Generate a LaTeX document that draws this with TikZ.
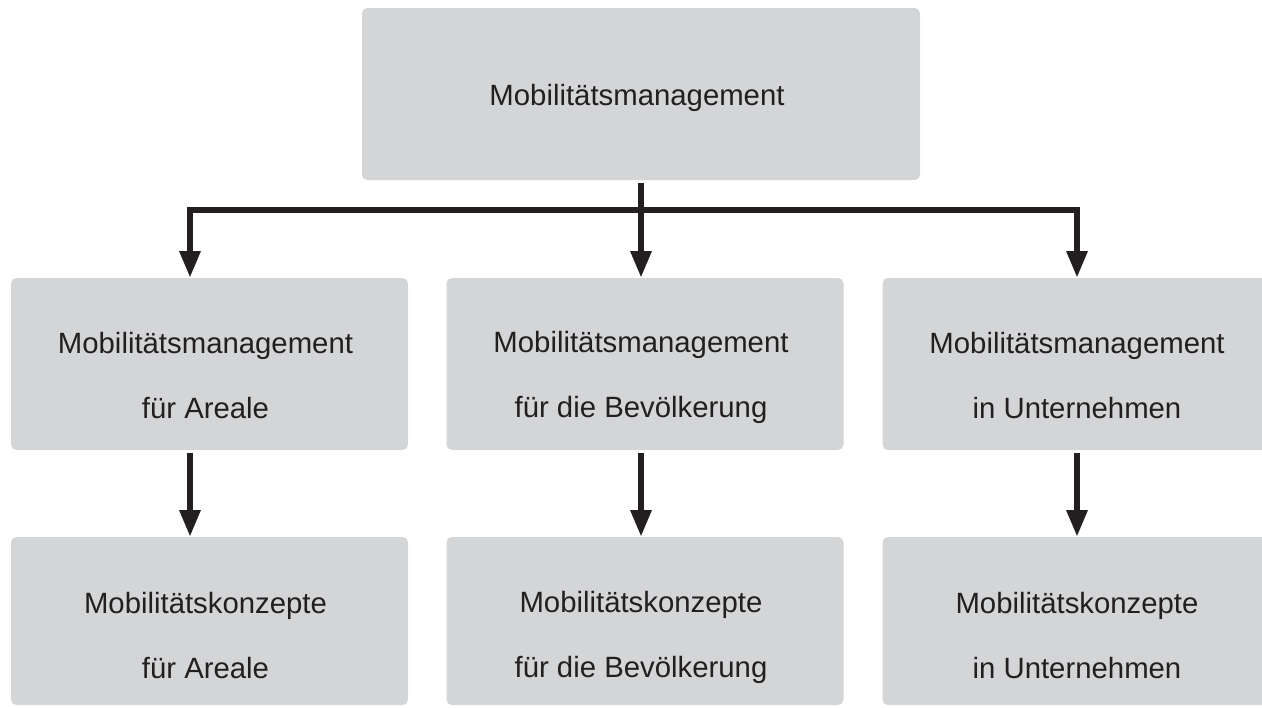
\documentclass[tikz,border=0pt]{standalone}
\usepackage{fontspec}
\setmainfont{Liberation Sans}
\usetikzlibrary{arrows.meta}
\definecolor{boxgray}{HTML}{D4D5D7}
\definecolor{inkdark}{HTML}{231F20}

\begin{document}
\begin{tikzpicture}[x=0.75pt, y=-0.75pt,
            every node/.style = {shape=rectangle, rounded corners=4pt,
                    fill=boxgray, text=inkdark, align=center, inner sep=0pt,
                    font=\fontsize{22}{48.75}\selectfont},
            textpad/.style = {execute at begin node={\rule{0pt}{#1}},
                    execute at end node={\rule[-4.5pt]{0pt}{4.5pt}\kern6pt}},
            field/.style = {minimum width=297.75pt, minimum height=129pt,
                    textpad=85.5pt},
            concept/.style = {minimum width=297.75pt, minimum height=126pt,
                    textpad=90pt},
            link/.style = {draw=inkdark, line width=4.5pt},
            arrow/.style = {link, shorten <=2pt,
                    -{Triangle[width=15pt,length=20pt]}}]
        \useasboundingbox (0,0) rectangle (1262,707);
        % management levels
        \node[minimum width=418.5pt, minimum height=129pt, textpad=22.5pt] (mm) at (641,94) {Mobilitätsmanagement};
        \node[field] (mmareal) at (209.5,364) {Mobilitätsmanagement\\für Areale};
        \node[field] (mmbev) at (645,364) {Mobilitätsmanagement\\für die Bevölkerung};
        \node[field] (mmunt) at (1081,364) {Mobilitätsmanagement\\in Unternehmen};
        % concepts
        \node[concept] (mkareal) at (209.5,621) {Mobilitätskonzepte\\für Areale};
        \node[concept] (mkbev) at (645,621) {Mobilitätskonzepte\\für die Bevölkerung};
        \node[concept] (mkunt) at (1081,621) {Mobilitätskonzepte\\in Unternehmen};
        % bus
        \coordinate (busl) at (190,210);
        \coordinate (busr) at (1077,210);
        \draw[link, {Triangle[width=15pt,length=20pt]}-{Triangle[width=15pt,length=20pt]}]
            (busl |- mmareal.north) -- (busl) -- (busr) -- (busr |- mmunt.north);
        \draw[arrow] (mm.south) -- (mm.south |- mmbev.north);
        \draw[arrow] (mmareal.south -| busl) -- (mkareal.north -| busl);
        \draw[arrow] (mmbev.south -| mm.south) -- (mkbev.north -| mm.south);
        \draw[arrow] (mmunt.south -| busr) -- (mkunt.north -| busr);
    \end{tikzpicture}
\end{document}
